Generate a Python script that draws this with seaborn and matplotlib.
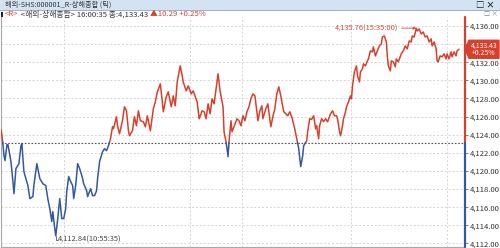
import matplotlib
matplotlib.use("Agg")
import matplotlib.pyplot as plt
import seaborn as sns
import pandas as pd
import numpy as np
from matplotlib.patches import Rectangle, Polygon

sns.set_style("white")
plt.rcParams['font.family'] = ['Noto Sans CJK KR', 'DejaVu Sans']

# ---------------- data ----------------
prev_close = 4123.14
last_price = 4133.43
change = 10.29
change_pct = 0.25
last_time = "16:00:35"
high_price, high_time = 4135.76, "15:35:00"
low_price, low_time = 4112.84, "10:55:35"

tick_pos = [0, 1, 2, 3, 4, 6, 7, 10, 12, 13, 15, 18, 20, 21, 23, 27, 29, 32, 33, 36,
            39, 42, 45, 47, 49, 51, 52, 54, 55, 57, 59, 61, 63, 65, 66, 68, 70, 72, 73, 75,
            77, 79, 82, 83, 86, 87, 90, 92, 94, 96, 97, 99, 102, 104, 106, 108, 110, 112, 113, 116,
            117, 119, 122, 124, 126, 128, 129, 132, 134, 136, 138, 140, 143, 145, 147, 148, 150, 153, 155, 157,
            160, 162, 163, 166, 168, 171, 173, 175, 177, 180, 182, 183, 186, 188, 191, 193, 197, 199, 202, 204,
            206, 208, 210, 212, 214, 216, 218, 220, 223, 224, 226, 227, 228, 229, 231, 232, 234, 237, 239, 241,
            243, 245, 247, 249, 251, 253, 255, 257, 258, 260, 262, 263, 266, 268, 271, 273, 275, 277, 279, 281,
            283, 284, 286, 288, 290, 292, 293, 295, 297, 299, 301, 303, 304, 307, 308, 310, 312, 314, 316, 317,
            319, 320, 322, 324, 326, 328, 331, 333, 335, 337, 338, 340, 341, 343, 344, 346, 347, 349, 351, 352,
            353, 355, 357, 358, 360, 361, 363, 364, 366, 368, 369, 371, 373, 374, 376, 378, 380, 382, 383, 385,
            387, 388, 389, 391, 392, 394, 396, 397, 399, 402, 404, 406, 408, 410, 412, 413, 415, 417, 418, 420,
            422, 424, 426, 428, 430, 432, 433, 435, 437, 438, 439, 441, 443, 445, 447, 448, 450, 452, 453, 455,
            457, 458, 460]

price = [4124.60, 4123.90, 4122.90, 4121.69, 4121.14, 4122.90, 4122.90, 4121.03, 4118.82, 4117.50,
         4120.26, 4120.81, 4122.79, 4123.01, 4119.93, 4118.38, 4116.95, 4117.17, 4118.38, 4120.81,
         4119.16, 4118.60, 4118.38, 4116.95, 4115.85, 4114.42, 4115.52, 4113.65, 4112.84, 4114.75,
         4116.95, 4114.75, 4114.75, 4115.85, 4117.72, 4119.38, 4118.82, 4118.38, 4116.95, 4118.38,
         4120.81, 4120.26, 4119.16, 4118.60, 4117.83, 4117.17, 4118.05, 4117.28, 4117.28, 4117.83,
         4119.16, 4121.03, 4122.13, 4122.46, 4122.24, 4122.80, 4123.56, 4124.88, 4124.66, 4125.98,
         4124.99, 4124.11, 4125.54, 4127.08, 4126.64, 4124.44, 4123.89, 4124.44, 4125.98, 4124.99,
         4126.64, 4125.54, 4125.43, 4124.88, 4126.09, 4125.54, 4124.44, 4126.86, 4127.63, 4128.73,
         4129.61, 4127.63, 4126.53, 4128.18, 4128.73, 4127.08, 4128.29, 4127.19, 4129.83, 4131.60,
         4130.50, 4129.83, 4128.84, 4129.39, 4128.51, 4128.84, 4127.63, 4125.76, 4126.64, 4126.53,
         4125.76, 4127.41, 4126.31, 4127.96, 4127.41, 4129.06, 4130.72, 4128.84, 4127.08, 4124.33,
         4123.23, 4122.46, 4121.58, 4123.23, 4125.54, 4124.33, 4124.88, 4125.76, 4125.54, 4124.99,
         4126.09, 4125.54, 4126.53, 4127.08, 4127.96, 4128.51, 4128.29, 4126.53, 4125.54, 4126.64,
         4127.19, 4125.76, 4126.86, 4127.41, 4124.88, 4125.98, 4126.86, 4128.51, 4129.28, 4128.29,
         4127.08, 4126.53, 4126.31, 4126.09, 4126.53, 4125.98, 4125.54, 4124.66, 4123.56, 4122.46,
         4120.48, 4121.69, 4122.79, 4123.34, 4124.33, 4125.76, 4125.70, 4126.09, 4124.66, 4124.99,
         4123.56, 4124.99, 4125.76, 4125.43, 4125.76, 4125.43, 4126.31, 4126.64, 4126.09, 4126.09,
         4125.76, 4124.33, 4123.89, 4124.99, 4125.76, 4126.53, 4127.08, 4127.63, 4128.29, 4127.96,
         4129.39, 4130.94, 4131.60, 4130.50, 4129.83, 4130.94, 4131.27, 4131.82, 4131.60, 4132.15,
         4132.37, 4133.25, 4133.14, 4133.69, 4132.70, 4133.25, 4133.80, 4134.02, 4134.79, 4134.90,
         4134.24, 4132.70, 4131.60, 4131.05, 4132.15, 4132.04, 4131.49, 4132.37, 4132.04, 4132.92,
         4133.25, 4133.80, 4133.47, 4134.35, 4134.24, 4134.90, 4134.79, 4135.76, 4135.45, 4135.67,
         4135.12, 4135.34, 4134.79, 4134.90, 4134.24, 4134.57, 4133.80, 4134.24, 4133.47, 4132.15,
         4132.04, 4132.70, 4132.59, 4132.92, 4132.37, 4132.92, 4132.37, 4133.14, 4132.59, 4133.14,
         4132.70, 4133.25, 4133.43]

y_ticks = [4112, 4114, 4116, 4118, 4120, 4122, 4124, 4126, 4128, 4130, 4132, 4134, 4136]
v_grid = [63, 190, 242, 352, 448]

# ---------------- style ----------------
RED = '#d8402c'
BLUE = '#34599e'
TXT = '#333333'
GRID = '#d4d4d4'

# ---------------- split into up / down segments ----------------
rows = []
seg = 0
prev_side = None
for i in range(len(price)):
    side = 'up' if price[i] >= prev_close else 'down'
    if prev_side is not None and side != prev_side:
        t0, p0 = tick_pos[i - 1], price[i - 1]
        t1, p1 = tick_pos[i], price[i]
        tc = t0 + (prev_close - p0) * (t1 - t0) / (p1 - p0)
        rows.append((tc, prev_close, prev_side, seg))
        seg += 1
        rows.append((tc, prev_close, side, seg))
    rows.append((tick_pos[i], price[i], side, seg))
    prev_side = side
df = pd.DataFrame(rows, columns=['t', 'p', 'side', 'seg'])

W, H = 500, 248
fig = plt.figure(figsize=(W / 100, H / 100), dpi=100)
fig.patch.set_facecolor('white')

# axes: x 0..466 px, y 17..247 px
ax = fig.add_axes([0.002, 1 / H, 464 / W, 230 / H])
ax.set_facecolor('white')
ax.set_xlim(0, 466)
ylo, yhi = 4111.61, 4136.99
ax.set_ylim(ylo, yhi)

for v in y_ticks:
    ax.axhline(v, color=GRID, lw=0.7, ls=(0, (2, 2)), zorder=0)
for v in v_grid:
    ax.axvline(v, color=GRID, lw=0.7, ls=(0, (2, 2)), zorder=0)
ax.axhline(prev_close, color='#555555', lw=0.8, ls=(0, (1.5, 1.5)), zorder=1)

sns.lineplot(data=df, x='t', y='p', hue='side', units='seg', estimator=None, sort=False,
             palette={'up': RED, 'down': BLUE}, legend=False, lw=1.1, ax=ax, zorder=3)

ax.set_xlabel('')
ax.set_ylabel('')
ax.set_xticks([])
ax.yaxis.tick_right()
ax.set_yticks(y_ticks)
# the label hidden behind the last-price tag in the reference is left blank
ax.set_yticklabels(["" if abs(v - last_price) < 1.0 else f"{v:,.2f}" for v in y_ticks])
ax.tick_params(axis='y', length=2.5, width=0.6, color='#666666', labelsize=5.5,
               labelcolor=TXT, pad=1, right=True)
for s in ['top', 'right']:
    ax.spines[s].set_visible(False)
for s in ['left', 'bottom']:
    ax.spines[s].set_color('#a8a8a8')
    ax.spines[s].set_linewidth(0.8)

# colored right spine
frac = (prev_close - ylo) / (yhi - ylo)
ax.axvline(466, ymin=frac, ymax=1, color=RED, lw=1.6, clip_on=False, zorder=4)
ax.axvline(466, ymin=0, ymax=frac, color=BLUE, lw=1.6, clip_on=False, zorder=4)

# high / low annotations
i_hi = int(np.argmax(price))
i_lo = int(np.argmin(price))
ax.annotate(f"{high_price:,.2f}({high_time})", xy=(tick_pos[i_hi], price[i_hi]),
            xytext=(-13, 0), textcoords='offset points', ha='right', va='center',
            fontsize=5.4, color='#c8503e',
            arrowprops=dict(arrowstyle='-|>', color='#c8503e', lw=0.6, mutation_scale=4,
                            shrinkA=0, shrinkB=0))
ax.plot([tick_pos[i_lo], tick_pos[i_lo], tick_pos[i_lo] + 2],
        [price[i_lo], price[i_lo] - 0.45, price[i_lo] - 0.45], color='#555555', lw=0.6)
ax.text(tick_pos[i_lo] + 2.5, price[i_lo] - 0.45, f"{low_price:,.2f}({low_time})",
        ha='left', va='center', fontsize=5.4, color='#444444')

# ---------------- header ----------------
fig.patches.append(Rectangle((0, 1 - 10 / H), 1, 10 / H, transform=fig.transFigure,
                             fc='#d3e3f2', ec='none', zorder=0))
fig.patches.append(Rectangle((0, 1 - 10.5 / H), 1, 0.6 / H, transform=fig.transFigure,
                             fc='#9fb4c8', ec='none', zorder=0))
fig.text(5 / W, 1 - 5 / H, "해외-SHS:000001_R-상해종합 (틱)", fontsize=5.2, color=TXT,
         ha='left', va='center')
fig.text(476 / W, 1 - 5 / H, "□ ×", fontsize=6, color='#222222', ha='left', va='center',
         fontweight='bold')
fig.text(484 / W, 1 - 14 / H, "□ ×", fontsize=4.5, color='#888888', ha='left', va='center')
fig.patches.append(Rectangle((1 / W, 1 - 16.5 / H), 1.6 / W, 5 / H, transform=fig.transFigure,
                             fc='#222222', ec='none'))

fig.canvas.draw()
renderer = fig.canvas.get_renderer()

# last price tag (arrow-shaped box on the right axis)
xr, yc = ax.transData.transform((466, last_price))
tag = [(xr, yc), (xr + 4, yc + 9), (W - 1, yc + 9), (W - 1, yc - 9), (xr + 4, yc - 9)]
tag_fig = [(px / W, py / H) for px, py in tag]
fig.patches.append(Polygon(tag_fig, closed=True, transform=fig.transFigure, fc=RED, ec=RED,
                           zorder=10))
fig.text((xr + 4 + W - 1) / 2 / W, (yc + 4) / H, f"{last_price:,.2f}", fontsize=5.0,
         color='white', ha='center', va='center', zorder=11)
fig.text((xr + 4 + W - 1) / 2 / W, (yc - 4) / H, f"+{change_pct:.2f}%", fontsize=5.0,
         color='white', ha='center', va='center', zorder=11)

x_px = 5
parts = [("<R>", RED), (f" <해외-상해종합> {last_time} 종:{last_price:,.2f} ", TXT),
         (f"▲{change:.2f} +{change_pct:.2f}%", RED)]
for s, c in parts:
    t = fig.text(x_px / W, 1 - 14 / H, s, fontsize=5.6, color=c, ha='left', va='center')
    bb = t.get_window_extent(renderer)
    x_px += bb.width

fig.savefig('out.png', dpi=100)
